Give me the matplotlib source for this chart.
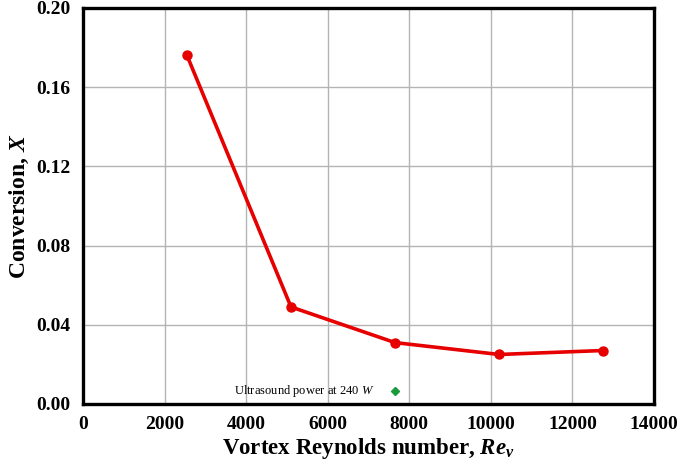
import numpy as np
import matplotlib
matplotlib.use("Agg")
import matplotlib.pyplot as plt

# conversion vs vortex Reynolds number
re_v = [2550, 5100, 7650, 10200, 12750]
conversion = [0.176, 0.049, 0.031, 0.025, 0.027]

# ultrasound reference point
us_re = [7650]
us_conv = [0.0066]
us_label = "Ultrasound power at 240 $W$"

x_ticks = [0, 2000, 4000, 6000, 8000, 10000, 12000, 14000]
y_ticks = [0.00, 0.04, 0.08, 0.12, 0.16, 0.20]

plt.rcParams["font.family"] = ["Liberation Serif", "DejaVu Serif"]
plt.rcParams["mathtext.fontset"] = "custom"
plt.rcParams["mathtext.rm"] = "Liberation Serif"
plt.rcParams["mathtext.it"] = "Liberation Serif:italic"
plt.rcParams["mathtext.bf"] = "Liberation Serif:bold"
plt.rcParams["mathtext.bfit"] = "Liberation Serif:italic:bold"

fig = plt.figure(figsize=(6.77, 4.68), dpi=100)
ax = fig.add_axes([0.1226, 0.1368, 0.8434, 0.8462])

ax.plot(re_v, conversion, "o-", color="#e60000", lw=2.6, ms=6.5, zorder=3)
ax.plot(us_re, us_conv, "D", color="#1a9a3a", ms=4.5, ls="none", zorder=3)
# label sits to the left of the green marker
ax.annotate(us_label, xy=(us_re[0], us_conv[0]), xytext=(-15, 0),
            textcoords="offset points", ha="right", va="center", fontsize=9)

ax.set_xlim(0, 14000)
ax.set_ylim(0, 0.20)
ax.set_xticks(x_ticks)
ax.set_yticks(y_ticks)
ax.set_yticklabels([f"{v:.2f}" for v in y_ticks])
ax.tick_params(length=0, labelsize=14, pad=9)
for lab in ax.get_xticklabels() + ax.get_yticklabels():
    lab.set_fontweight("bold")

ax.grid(True, color="#b4b4b4", lw=1.0)
ax.set_axisbelow(True)
for sp in ax.spines.values():
    sp.set_linewidth(2.4)
    sp.set_color("black")

ax.set_xlabel(r"Vortex Reynolds number, $\mathbfit{Re_v}$", fontsize=16.5, fontweight="bold", labelpad=2)
ax.set_ylabel(r"Conversion, $\mathbfit{X}$", fontsize=17, fontweight="bold", labelpad=4)

fig.savefig("out.png", dpi=100)
